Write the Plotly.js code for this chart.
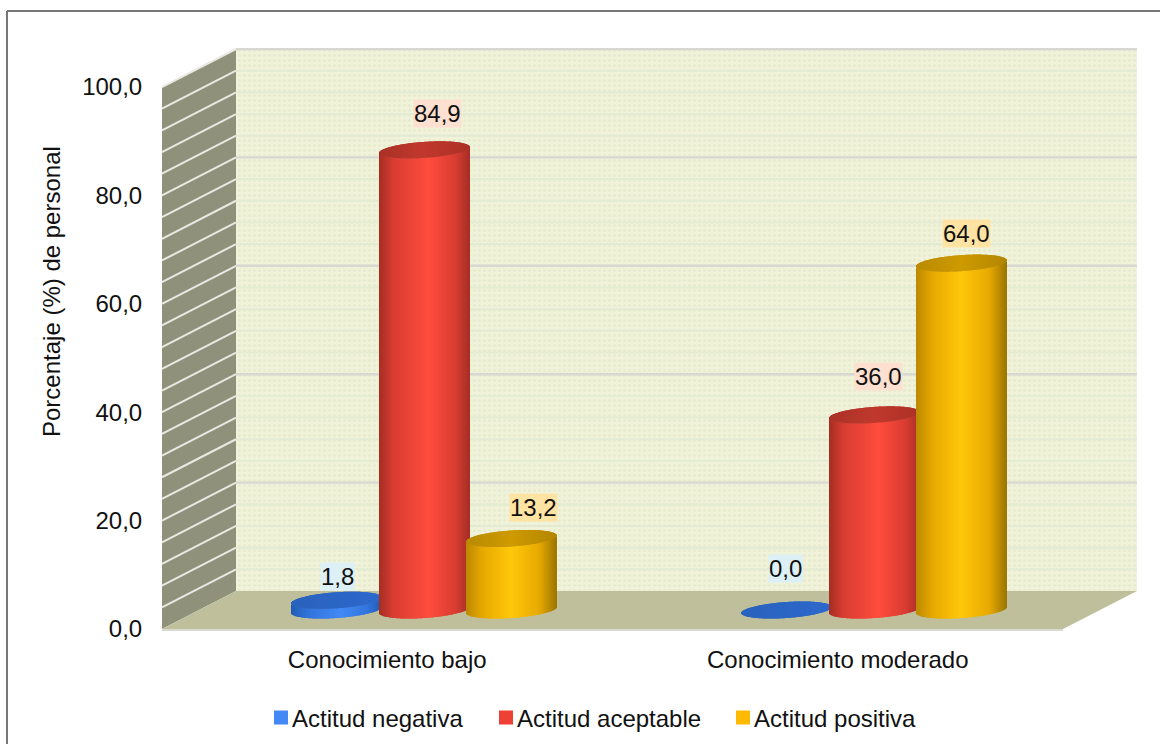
<!DOCTYPE html>
<html lang="es">
<head>
<meta charset="utf-8">
<title>Conocimiento y actitud</title>
<script src="https://cdn.plot.ly/plotly-3.0.1.min.js"></script>
<style>html,body{margin:0;padding:0;background:#fff;overflow:hidden}#chart{width:1160px;height:744px}</style>
</head>
<body>
<div id="chart"></div>
<script>
// Survey results, percentage of staff per knowledge level
const categories = ["Conocimiento bajo", "Conocimiento moderado"];
const seriesNames = ["Actitud negativa", "Actitud aceptable", "Actitud positiva"];
const actitudNegativa = [1.8, 0.0];
const actitudAceptable = [84.9, 36.0];
const actitudPositiva = [13.2, 64.0];
const yAxisTitle = "Porcentaje (%) de personal";

const seriesValues = [actitudNegativa, actitudAceptable, actitudPositiva];

// Frame and scale of the box: one category and one percent in pixels
const W = 1160, H = 744;
const M = {l: 162, r: 23, t: 48, b: 112, autoexpand: false};
const pxPerCat = 450.5, pxPerPct = 5.42;
const depthX = 74 / pxPerCat, depthY = 38 / pxPerPct;   // oblique shift from front to back wall
const xMax = (W - M.l - M.r) / pxPerCat;
const yMin = -3 / pxPerPct;                             // room for the highlight under the floor
const yMax = (H - M.t - M.b) / pxPerPct + yMin;
const toPaperX = px => (px - M.l) / (W - M.l - M.r);
const toPaperY = px => (H - M.b - px) / (H - M.t - M.b);

// Cylinder geometry, drawn as 1px wide bar slices so each one can be shaded
const halfWidth = 45 / pxPerCat;
const seriesShift = [-88 / pxPerCat, 0, 87 / pxPerCat];
const capRy = 8 / pxPerPct, capTilt = 3 / pxPerPct;
const sliceCount = 90;

const bodyShade = [
  [[0, "#1f5cb4"], [0.2, "#3274dc"], [0.55, "#4189f6"], [0.85, "#3274dc"], [1, "#1f5cb4"]],
  [[0, "#a52d23"], [0.16, "#d83c31"], [0.55, "#ff4c3d"], [0.85, "#d93c31"], [1, "#a72e25"]],
  [[0, "#bb8800"], [0.18, "#e6a800"], [0.5, "#ffc80a"], [0.82, "#e6a800"], [1, "#9c7600"]]
];
const capShade = [
  [[0, "#2a62bc"], [1, "#2c68cc"]],
  [[0, "#a93127"], [0.5, "#c1382d"], [1, "#ab3026"]],
  [[0, "#b98a00"], [0.5, "#cd9a00"], [1, "#b48600"]]
];
const legendColors = ["#4488f5", "#ee4035", "#ffb900"];
const labelFill = ["#dcf0f5", "#fde0d0", "#ffe3a3"];
// Label placement relative to the cap centre, in pixels: [series][category]
const labelDx = [[1, -1], [13, 4], [22, 5]];
const labelDy = [[24, 42], [36, 38], [31, 30]];

const hexToRgb = h => [1, 3, 5].map(i => parseInt(h.substr(i, 2), 16));
function shadeAt(stops, t) {
  for (let i = 1; i < stops.length; i++) {
    if (t <= stops[i][0]) {
      const a = stops[i - 1], b = stops[i], f = (t - a[0]) / (b[0] - a[0]);
      const ca = hexToRgb(a[1]), cb = hexToRgb(b[1]);
      return "rgb(" + ca.map((c, k) => Math.round(c + (cb[k] - c) * f)).join(",") + ")";
    }
  }
  return stops[stops.length - 1][1];
}

const traces = [];
const BASE = {type: "bar", hoverinfo: "skip", showlegend: false, opacity: 1};

// Back wall with its stipple
const wallX = depthX + 1;
traces.push(Object.assign({}, BASE, {
  x: [wallX], y: [100], base: [depthY], width: [2],
  marker: {color: "#eff1d7", opacity: 1, line: {width: 0},
    pattern: {shape: ".", fgcolor: "#e8ecce", bgcolor: "#f0f2da", size: 5, solidity: 0.3}}
}));

// Gridlines printed on the back wall
const majorTicks = [20, 40, 60, 80, 100];
const minorTicks = [4, 8, 12, 16, 24, 28, 32, 36, 44, 48, 52, 56, 64, 68, 72, 76, 84, 88, 92, 96];
function gridTrace(levels, color, thick) {
  return Object.assign({}, BASE, {
    x: levels.map(() => wallX), y: levels.map(() => thick),
    base: levels.map(v => v + depthY - thick / 2), width: levels.map(() => 2),
    marker: {color: color, opacity: 1, line: {width: 0}}
  });
}
traces.push(gridTrace(minorTicks, "#e3ebd2", 2 / pxPerPct));
traces.push(gridTrace(majorTicks, "#d8d8d2", 2.4 / pxPerPct));

// Cylinders in series order, so later ones overlap earlier ones
seriesValues.forEach((values, s) => {
  const body = {x: [], y: [], base: [], color: []};
  const cap = {x: [], y: [], base: [], color: []};
  values.forEach((v, c) => {
    const centre = c + 0.5 + depthX / 2 + seriesShift[s];
    for (let i = 0; i < sliceCount; i++) {
      const t = (i + 0.5) / sliceCount, u = 2 * t - 1;
      const arc = capRy * Math.sqrt(1 - u * u);
      const lift = depthY / 2 + capTilt * u;
      body.x.push(centre + u * halfWidth);
      body.y.push(v);
      body.base.push(lift - arc);
      body.color.push(shadeAt(bodyShade[s], t));
      cap.x.push(centre + u * halfWidth);
      cap.y.push(2 * arc);
      cap.base.push(v + lift - arc);
      cap.color.push(shadeAt(capShade[s], t));
    }
  });
  const sliceWidth = 2 * halfWidth / sliceCount;
  [body, cap].forEach(p => traces.push(Object.assign({}, BASE, {
    x: p.x, y: p.y, base: p.base, width: sliceWidth,
    marker: {color: p.color, opacity: 1, line: {width: 0}}
  })));
});

// Legend entries, one legend box each for exact placement along the row
const legendNames = ["legend", "legend2", "legend3"];
seriesNames.forEach((name, s) => traces.push({
  type: "scatter", mode: "markers", name: name, x: [null], y: [null], hoverinfo: "skip",
  legend: legendNames[s], showlegend: true,
  marker: {symbol: "square", size: 14, color: legendColors[s], angle: 90, standoff: 9}
}));

const font = {family: "Liberation Sans, Arial, sans-serif", size: 24, color: "#111"};

// Side wall, floor and frame
const shapes = [
  {type: "path", layer: "below", xref: "x", yref: "y", line: {width: 0}, fillcolor: "#90917b",
   path: `M0,0 L${depthX},${depthY} L${depthX},${100 + depthY} L0,100 Z`},
  {type: "path", layer: "below", xref: "x", yref: "y", line: {width: 0}, fillcolor: "#bfbf9b",
   path: `M0,0 L2,0 L${2 + depthX},${depthY} L${depthX},${depthY} Z`},
  {type: "line", layer: "below", xref: "x", yref: "y", x0: 0, x1: 2, y0: -0.2, y1: -0.2,
   line: {color: "#d9d9d2", width: 2}},
  {type: "line", xref: "paper", yref: "paper", x0: toPaperX(7), x1: toPaperX(7), y0: toPaperY(11), y1: toPaperY(H),
   line: {color: "#777", width: 2}},
  {type: "line", xref: "paper", yref: "paper", x0: toPaperX(7), x1: toPaperX(W), y0: toPaperY(11), y1: toPaperY(11),
   line: {color: "#777", width: 2}}
];
majorTicks.concat(minorTicks).forEach(v => shapes.push({
  type: "line", layer: "below", xref: "x", yref: "y", x0: 0, x1: depthX, y0: v, y1: v + depthY,
  line: {color: "#e9e9e2", width: 2}
}));

// Value labels with their tinted boxes
const annotations = [];
seriesValues.forEach((values, s) => values.forEach((v, c) => {
  annotations.push({
    xref: "x", yref: "y", showarrow: false,
    x: c + 0.5 + depthX / 2 + seriesShift[s] + labelDx[s][c] / pxPerCat,
    y: v + depthY / 2 + labelDy[s][c] / pxPerPct,
    text: v.toFixed(1).replace(".", ","), font: font, bgcolor: labelFill[s], borderpad: 0
  });
}));
annotations.push({
  xref: "paper", yref: "paper", showarrow: false, textangle: -90, xanchor: "center", yanchor: "middle",
  x: toPaperX(51), y: toPaperY(292), text: yAxisTitle, font: font
});

const legendBox = px => ({
  x: toPaperX(px), y: toPaperY(718), xanchor: "left", yanchor: "middle",
  bgcolor: "rgba(0,0,0,0)", borderwidth: 0, font: font, orientation: "h"
});

const layout = {
  width: W, height: H, margin: M, paper_bgcolor: "#fff", plot_bgcolor: "rgba(0,0,0,0)",
  barmode: "overlay", separators: ",.", font: font,
  showlegend: true,
  legend: legendBox(252), legend2: legendBox(477), legend3: legendBox(714),
  xaxis: {
    range: [0, xMax], showgrid: false, zeroline: false, showline: false, fixedrange: true,
    tickmode: "array", tickvals: categories.map((_, i) => i + 0.5), ticktext: categories,
    ticks: "outside", ticklen: 6, tickcolor: "rgba(0,0,0,0)", tickfont: font
  },
  yaxis: {
    range: [yMin, yMax], showgrid: false, zeroline: false, showline: false, fixedrange: true,
    tickmode: "array", tickvals: [0, 20, 40, 60, 80, 100], tickformat: ".1f",
    ticks: "outside", ticklen: 14, tickcolor: "rgba(0,0,0,0)", tickfont: font
  },
  shapes: shapes, annotations: annotations
};

// Bars snap to whole pixels only in an interactive plot, which keeps the slices seamless
Plotly.newPlot("chart", traces, layout, {displayModeBar: false});
</script>
</body>
</html>
